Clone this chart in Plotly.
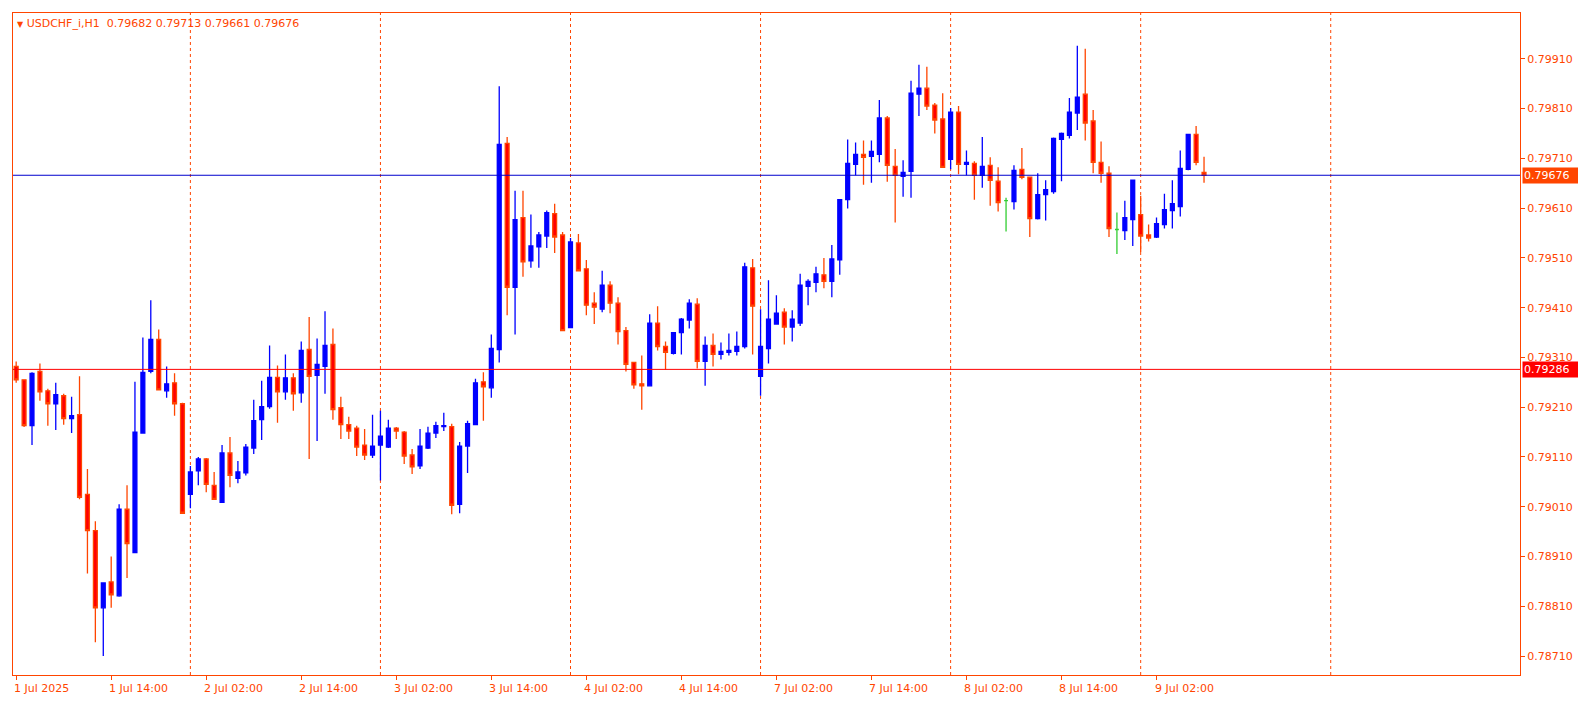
import plotly.graph_objects as go

symbol = "USDCHF_i,H1"
opens = [.79292,.79265,.79173,.79282,.79243,.79217,.79233,.79187,.79195,.79035,
 .78962,.78807,.78859,.78831,.79005,.78918,.79158,.79282,.79346,.79243,
 .79259,.79217,.79035,.79082,.79106,.79053,.79019,.79118,.79067,.79078,
 .79128,.79185,.79211,.79270,.79241,.79269,.79239,.79326,.79274,.79292,
 .79336,.79209,.79175,.79168,.79134,.79114,.79134,.79130,.79168,.79160,
 .79114,.79092,.79128,.79158,.79171,.79171,.79015,.79132,.79175,.79261,
 .79249,.79326,.79740,.79451,.79591,.79504,.79532,.79554,.79599,.79556,
 .79370,.79540,.79488,.79419,.79407,.79455,.79419,.79364,.79300,.79257,
 .79253,.79379,.79332,.79318,.79360,.79385,.79417,.79302,.79334,.79316,
 .79320,.79322,.79332,.79490,.79272,.79328,.79377,.79401,.79371,.79379,
 .79453,.79461,.79476,.79463,.79506,.79627,.79698,.79718,.79714,.79718,
 .79791,.79694,.79674,.79684,.79839,.79851,.79817,.79789,.79708,.79803,
 .79698,.79700,.79676,.79696,.79664,.79625,.79623,.79688,.79672,.79589,
 .79637,.79643,.79748,.79756,.79801,.79839,.79785,.79702,.79680,.79567,
 .79565,.79587,.79597,.79556,.79552,.79577,.79605,.79613,.79688,.79758,
 .79682]
highs = [.79302,.79265,.79280,.79298,.79247,.79259,.79237,.79231,.79272,.79086,
 .78981,.78857,.78910,.79015,.79053,.79261,.79350,.79425,.79366,.79292,
 .79278,.79219,.79092,.79110,.79108,.79080,.79134,.79150,.79102,.79136,
 .79225,.79263,.79334,.79294,.79316,.79278,.79342,.79391,.79348,.79403,
 .79368,.79231,.79191,.79173,.79166,.79195,.79203,.79185,.79170,.79162,
 .79126,.79166,.79171,.79181,.79199,.79177,.79140,.79183,.79267,.79280,
 .79356,.79855,.79753,.79645,.79645,.79597,.79562,.79605,.79619,.79562,
 .79550,.79558,.79506,.79441,.79484,.79463,.79431,.79371,.79300,.79314,
 .79397,.79413,.79342,.79360,.79389,.79427,.79429,.79352,.79358,.79340,
 .79358,.79362,.79500,.79508,.79407,.79465,.79435,.79409,.79405,.79478,
 .79467,.79492,.79510,.79536,.79627,.79748,.79742,.79746,.79746,.79827,
 .79795,.79729,.79706,.79866,.79898,.79894,.79821,.79841,.79811,.79815,
 .79726,.79704,.79753,.79712,.79692,.79631,.79696,.79731,.79672,.79680,
 .79666,.79752,.79762,.79831,.79936,.79930,.79807,.79744,.79694,.79601,
 .79625,.79666,.79635,.79577,.79591,.79639,.79666,.79726,.79758,.79775,
 .79713]
lows = [.79259,.79170,.79134,.79223,.79173,.79164,.79175,.79158,.79025,.78876,
 .78738,.78710,.78807,.78829,.78867,.78918,.79158,.79278,.79245,.79229,
 .79193,.78997,.79007,.79053,.79039,.79025,.79019,.79049,.79057,.79073,
 .79116,.79144,.79207,.79179,.79225,.79203,.79219,.79106,.79142,.79237,
 .79185,.79146,.79146,.79112,.79104,.79108,.79063,.79128,.79146,.79096,
 .79076,.79086,.79126,.79148,.79162,.78995,.78997,.79078,.79175,.79183,
 .79229,.79300,.79395,.79356,.79472,.79490,.79490,.79530,.79520,.79364,
 .79370,.79484,.79395,.79377,.79401,.79399,.79336,.79282,.79247,.79205,
 .79253,.79324,.79286,.79316,.79316,.79368,.79288,.79253,.79292,.79306,
 .79314,.79314,.79328,.79316,.79233,.79298,.79377,.79336,.79342,.79373,
 .79415,.79441,.79449,.79431,.79476,.79609,.79676,.79657,.79661,.79702,
 .79663,.79581,.79633,.79631,.79795,.79807,.79760,.79692,.79688,.79678,
 .79676,.79627,.79651,.79615,.79603,.79563,.79607,.79668,.79552,.79587,
 .79585,.79639,.79664,.79750,.79767,.79746,.79680,.79661,.79552,.79518,
 .79546,.79534,.79522,.79543,.79550,.79569,.79569,.79593,.79686,.79696,
 .79661]
closes = [.79265,.79173,.79278,.79241,.79217,.79235,.79187,.79193,.79029,.78962,
 .78807,.78857,.78833,.79005,.78936,.79160,.79280,.79346,.79245,.79257,
 .79217,.78997,.79080,.79106,.79055,.79025,.79118,.79073,.79080,.79130,
 .79183,.79211,.79270,.79241,.79269,.79237,.79324,.79272,.79296,.79334,
 .79205,.79175,.79162,.79130,.79114,.79132,.79152,.79168,.79162,.79112,
 .79090,.79132,.79158,.79173,.79173,.79013,.79132,.79177,.79259,.79251,
 .79328,.79738,.79451,.79587,.79502,.79534,.79556,.79601,.79552,.79364,
 .79542,.79484,.79415,.79411,.79455,.79419,.79362,.79296,.79255,.79253,
 .79379,.79332,.79320,.79360,.79387,.79419,.79302,.79334,.79316,.79322,
 .79324,.79332,.79492,.79413,.79332,.79387,.79399,.79371,.79387,.79455,
 .79463,.79478,.79463,.79508,.79627,.79700,.79718,.79712,.79724,.79791,
 .79696,.79676,.79682,.79841,.79851,.79815,.79787,.79692,.79803,.79698,
 .79702,.79676,.79694,.79666,.79621,.79625,.79686,.79672,.79589,.79637,
 .79647,.79750,.79760,.79803,.79833,.79781,.79702,.79680,.79569,.79567,
 .79591,.79666,.79554,.79550,.79579,.79607,.79619,.79690,.79758,.79702,
 .79676]
bid_price = 0.79676
level_price = 0.79286
price_ticks = [0.78710, 0.78810, 0.78910, 0.79010, 0.79110, 0.79210, 0.79310,
               0.79410, 0.79510, 0.79610, 0.79710, 0.79810, 0.79910]
time_tick_pos = [0, 12, 24, 36, 48, 60, 72, 84, 96, 108, 120, 132, 144]
time_tick_labels = ["1 Jul 2025", "1 Jul 14:00", "2 Jul 02:00", "2 Jul 14:00",
                    "3 Jul 02:00", "3 Jul 14:00", "4 Jul 02:00", "4 Jul 14:00",
                    "7 Jul 02:00", "7 Jul 14:00", "8 Jul 02:00", "8 Jul 14:00",
                    "9 Jul 02:00"]
day_starts = [22, 46, 70, 94, 118, 142, 166]

AX = "#FF4500"
FONT = "DejaVu Sans"
idx = list(range(len(opens)))
doji = [i for i in idx if abs(opens[i] - closes[i]) < 1e-9]
normal = [i for i in idx if i not in doji]

fig = go.Figure()
def pick(a, ii): return [a[i] for i in ii]
fig.add_trace(go.Candlestick(
    x=normal, open=pick(opens, normal), high=pick(highs, normal),
    low=pick(lows, normal), close=pick(closes, normal),
    increasing=dict(line=dict(color="#0000FF", width=1.3), fillcolor="#0000FF"),
    decreasing=dict(line=dict(color=AX, width=1.3), fillcolor="#FF0000"),
    whiskerwidth=0, hoverinfo="skip", showlegend=False))
if doji:
    fig.add_trace(go.Candlestick(
        x=doji, open=pick(opens, doji), high=pick(highs, doji),
        low=pick(lows, doji), close=pick(closes, doji),
        increasing=dict(line=dict(color="#32CD32", width=1.3), fillcolor="#32CD32"),
        decreasing=dict(line=dict(color="#32CD32", width=1.3), fillcolor="#32CD32"),
        whiskerwidth=0, hoverinfo="skip", showlegend=False))

shapes = []
for d in day_starts:
    shapes.append(dict(type="line", xref="x", yref="paper", x0=d, x1=d, y0=0, y1=1,
                       line=dict(color=AX, width=1, dash="dot"), layer="below"))
shapes.append(dict(type="line", xref="paper", yref="y", x0=0, x1=1, y0=bid_price, y1=bid_price,
                   line=dict(color="#0000CD", width=1)))
shapes.append(dict(type="line", xref="paper", yref="y", x0=0, x1=1, y0=level_price, y1=level_price,
                   line=dict(color="#FF0000", width=1)))

ann = []
for p, t in zip(time_tick_pos, time_tick_labels):
    ann.append(dict(x=p, y=0, xref="x", yref="paper", text=t, showarrow=False,
                    xanchor="left", yanchor="top", yshift=-5, xshift=-4,
                    font=dict(family=FONT, size=11, color=AX)))
ann.append(dict(x=1, y=bid_price, xref="paper", yref="y", text=f"{bid_price:.5f}",
                showarrow=False, xanchor="left", yanchor="middle", xshift=2,
                bgcolor="#FF4500", font=dict(family=FONT, size=11, color="white"),
                borderpad=1, width=66, align="left"))
ann.append(dict(x=1, y=level_price, xref="paper", yref="y", text=f"{level_price:.5f}",
                showarrow=False, xanchor="left", yanchor="middle", xshift=2,
                bgcolor="#FF0000", font=dict(family=FONT, size=11, color="white"),
                borderpad=1, width=66, align="left"))
ann.append(dict(x=0, y=1, xref="paper", yref="paper",
                text=f"<span style='font-size:8px'>▼</span> {symbol}  {opens[-1]:.5f} {highs[-1]:.5f} {lows[-1]:.5f} {closes[-1]:.5f}",
                showarrow=False, xanchor="left", yanchor="top", xshift=2, yshift=-2,
                font=dict(family=FONT, size=11, color=AX)))

fig.update_layout(
    width=1586, height=703, margin=dict(l=5, r=74, t=5, b=36),
    paper_bgcolor="white", plot_bgcolor="white",
    shapes=shapes, annotations=ann,
    xaxis=dict(range=[-0.4, 189.9], rangeslider=dict(visible=False), showgrid=False,
               zeroline=False, tickvals=time_tick_pos, ticktext=[""] * len(time_tick_pos),
               ticks="outside", ticklen=4, tickcolor=AX, showline=True, linecolor=AX,
               linewidth=1, mirror=True),
    yaxis=dict(range=[0.78672, 0.80002], side="right", showgrid=False, zeroline=False,
               tickvals=price_ticks, ticktext=[f"{v:.5f}" for v in price_ticks],
               ticks="outside", ticklen=4, tickcolor=AX, showline=True, linecolor=AX,
               linewidth=1, mirror=True,
               tickfont=dict(family=FONT, size=11, color=AX)),
)
fig.write_html("out.html")
